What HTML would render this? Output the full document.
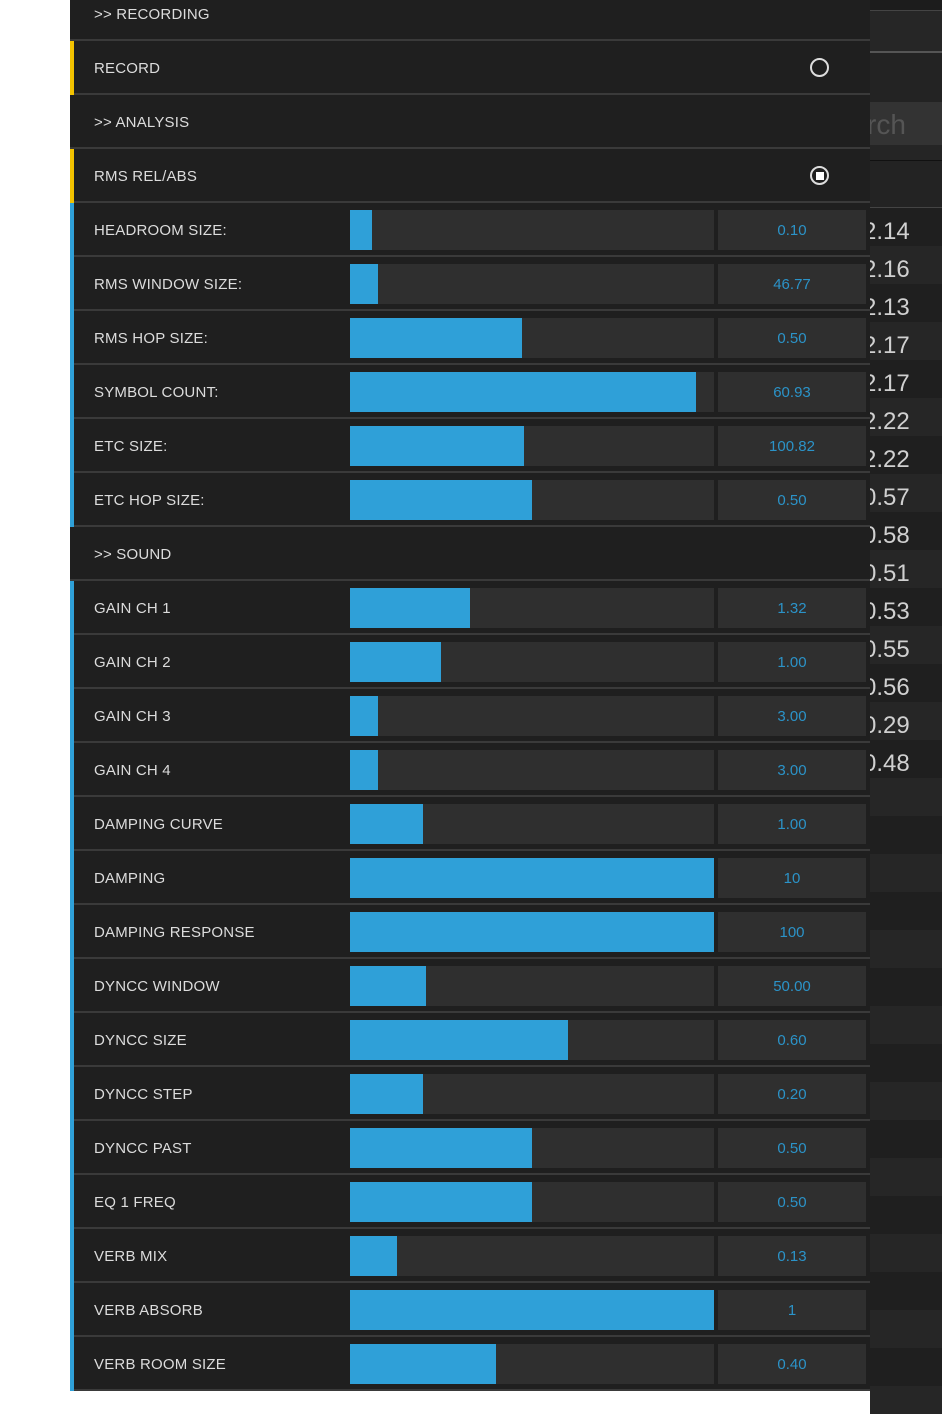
<!DOCTYPE html>
<html><head><meta charset="utf-8">
<style>
body{margin:0;width:942px;height:1414px;background:#fff;position:relative;overflow:hidden;font-family:"Liberation Sans","DejaVu Sans",sans-serif}
#right{position:absolute;left:870px;top:0;width:72px;height:1414px;background:#1e1e1e;overflow:hidden}
#right div{position:absolute;left:0;width:72px;white-space:nowrap}
#panel{position:absolute;left:70px;top:0;width:800px;height:1391px;background:#1f1f1f}
.row{position:absolute;left:0;width:800px;height:54px;border-bottom:2px solid #3a3a3a;box-sizing:border-box}
.strip{position:absolute;left:0;top:0;width:4px;height:54px}
.lbl{position:absolute;left:24px;top:2px;line-height:52px;font-size:15px;color:#dcdcdc;letter-spacing:0.2px}
.track{position:absolute;left:280px;top:7px;width:364px;height:40px;background:#2f2f2f}
.fill{position:absolute;left:0;top:0;height:40px;background:#2fa0d8}
.val{position:absolute;left:648px;top:7px;width:148px;height:40px;background:#2f2f2f;color:#2b93c8;font-size:15px;text-align:center;line-height:42px}
.radio{position:absolute;left:740px;top:17px;width:19px;height:19px;border:2px solid #ddd;border-radius:50%;box-sizing:border-box}
</style></head><body>
<div id="right"></div>
<div id="panel"></div>
<script>
const labels=["HEADROOM SIZE:","RMS WINDOW SIZE:","RMS HOP SIZE:","SYMBOL COUNT:","ETC SIZE:","ETC HOP SIZE:",null,"GAIN CH 1","GAIN CH 2","GAIN CH 3","GAIN CH 4","DAMPING CURVE","DAMPING","DAMPING RESPONSE","DYNCC WINDOW","DYNCC SIZE","DYNCC STEP","DYNCC PAST","EQ 1 FREQ","VERB MIX","VERB ABSORB","VERB ROOM SIZE"];
const fractions=[0.06,0.077,0.473,0.95,0.478,0.5,null,0.33,0.25,0.077,0.077,0.2,1,1,0.21,0.6,0.2,0.5,0.5,0.13,1,0.4];
const values=["0.10","46.77","0.50","60.93","100.82","0.50",null,"1.32","1.00","3.00","3.00","1.00","10","100","50.00","0.60","0.20","0.50","0.50","0.13","1","0.40"];
const sideNums=["2.14","2.16","2.13","2.17","2.17","2.22","2.22","0.57","0.58","0.51","0.53","0.55","0.56","0.29","0.48"];
const panel=document.getElementById('panel');
const RH=54,TOP=-13;
function mk(cls,parent){const d=document.createElement('div');d.className=cls;parent.appendChild(d);return d;}
const head=[["&gt;&gt; RECORDING",null],["RECORD","#f2c200"],["&gt;&gt; ANALYSIS",null],["RMS REL/ABS","#f2c200"]];
head.forEach((h,i)=>{
 const r=mk('row',panel);r.style.top=(TOP+i*RH)+'px';
 
 
 if(h[1]){const s=mk('strip',r);s.style.background=h[1];
  const rd=mk('radio',r);
  
  
  if(i==3){rd.innerHTML='<div style="position:absolute;left:3.5px;top:3.5px;width:8px;height:8px;background:#fff"></div>';}}
 const l=mk('lbl',r);l.innerHTML=h[0];
});
labels.forEach((t,i)=>{
 const r=mk('row',panel);r.style.top=(TOP+(i+4)*RH)+'px';
 if(t===null){
  
  
  const l=mk('lbl',r);l.innerHTML='&gt;&gt; SOUND';return;}
 
 
 const s=mk('strip',r);s.style.background='#2fa0d8';
 const l=mk('lbl',r);l.textContent=t;
 const tr=mk('track',r);
 
 
 const f=mk('fill',tr);f.style.width=(fractions[i]*364)+'px';
 
 
 const v=mk('val',r);v.textContent=values[i];
 
 
});
const right=document.getElementById('right');
function band(top,h,bg,extra){const d=document.createElement('div');d.style.top=top+'px';d.style.height=h+'px';d.style.background=bg;if(extra)Object.assign(d.style,extra);right.appendChild(d);return d;}
band(0,10,'#1c1c1c');band(10,1,'#444');band(11,40,'#262626');band(51,2,'#555');band(53,49,'#232323');
const sb=band(102,43,'#333',{color:'#555',fontSize:'28px',lineHeight:'45px',textIndent:'-3px'});sb.textContent='rch';


band(145,15,'#252525');band(160,1,'#111');band(161,46,'#232323');band(207,1,'#444');
for(let k=0;k<32;k++){
 const d=band(208+k*38,38,k%2?'#262626':'#1f1f1f',{color:'#d0d0d0',fontSize:'24px',lineHeight:'48px',textIndent:'-7px'});
 if(k<sideNums.length){d.textContent=sideNums[k];
  
  }
}
</script>
</body></html>
